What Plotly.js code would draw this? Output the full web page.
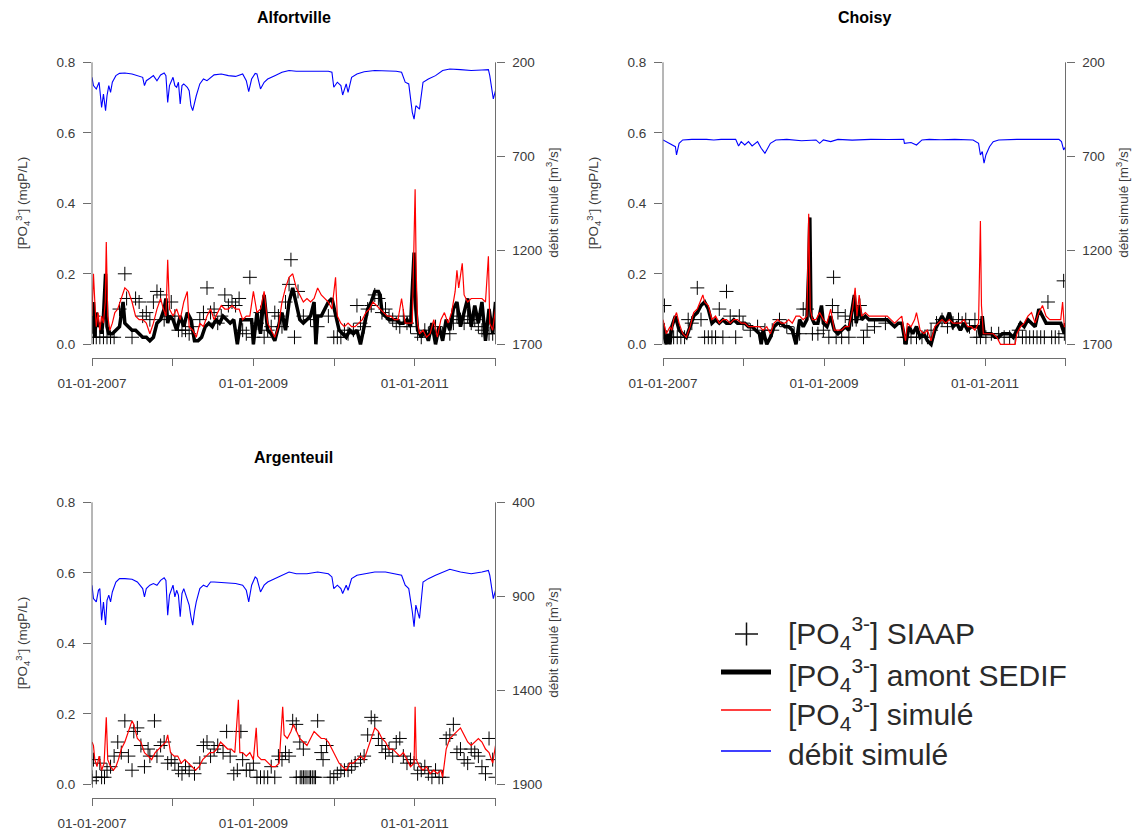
<!DOCTYPE html>
<html>
<head>
<meta charset="utf-8">
<script src="https://cdn.plot.ly/plotly-3.0.1.min.js"></script>
<style>html,body{margin:0;padding:0;background:#fff;}#chart{width:1133px;height:834px;}</style>
</head>
<body>
<div id="chart"></div>
<script>
// ---------- axis labels ----------
const labelYears = [2007, 2009, 2011];
const tickLabels = ['01-01-2007', '01-01-2009', '01-01-2011'];
const unlabelledYears = [2008, 2010, 2012];
const concTicks = [0, 0.2, 0.4, 0.6, 0.8];
const concLabels = ['0.0', '0.2', '0.4', '0.6', '0.8'];
const flowTicksAC = [200, 700, 1200, 1700];
const flowTicksArg = [400, 900, 1400, 1900];
const panelTitles = ['Alfortville', 'Choisy', 'Argenteuil'];

// ---------- Alfortville ----------
const alfFlowT = [2007.000,2007.018,2007.053,2007.088,2007.119,2007.142,2007.168,2007.186,2007.208,2007.230,2007.252,2007.296,2007.341,2007.407,2007.496,2007.562,2007.628,2007.650,2007.673,2007.717,2007.761,2007.805,2007.850,2007.894,2007.916,2007.938,2007.960,2008.004,2008.027,2008.049,2008.071,2008.093,2008.115,2008.137,2008.181,2008.204,2008.226,2008.248,2008.270,2008.292,2008.336,2008.381,2008.425,2008.469,2008.513,2008.602,2008.690,2008.779,2008.867,2008.912,2008.942,2008.978,2009.022,2009.044,2009.088,2009.133,2009.177,2009.265,2009.354,2009.442,2009.531,2009.664,2009.796,2009.929,2009.973,2009.996,2010.040,2010.084,2010.106,2010.150,2010.173,2010.217,2010.283,2010.372,2010.504,2010.637,2010.770,2010.836,2010.881,2010.925,2010.969,2010.991,2011.013,2011.058,2011.102,2011.168,2011.257,2011.345,2011.434,2011.566,2011.699,2011.832,2011.912,2011.929,2011.956,2011.973,2012.000];
const alfFlow = [280,324,342,306,440,369,457,378,324,360,306,271,259,257,262,271,280,324,298,285,271,298,267,257,271,413,324,280,324,333,306,422,324,315,333,351,431,457,413,378,315,289,298,280,267,262,271,275,262,298,356,289,259,262,342,306,289,271,253,244,248,248,248,248,253,333,306,324,374,315,360,280,262,250,244,244,248,253,306,315,466,502,431,449,306,289,271,244,236,239,244,241,239,271,342,395,351];

const alfSimT = [2007.000,2007.018,2007.035,2007.053,2007.075,2007.097,2007.119,2007.142,2007.164,2007.177,2007.195,2007.221,2007.252,2007.283,2007.319,2007.363,2007.407,2007.451,2007.496,2007.540,2007.584,2007.628,2007.673,2007.717,2007.761,2007.805,2007.850,2007.885,2007.916,2007.938,2007.960,2008.004,2008.049,2008.093,2008.137,2008.181,2008.204,2008.248,2008.292,2008.336,2008.381,2008.425,2008.469,2008.513,2008.558,2008.602,2008.646,2008.690,2008.735,2008.779,2008.823,2008.867,2008.912,2008.956,2009.000,2009.044,2009.088,2009.133,2009.177,2009.221,2009.265,2009.310,2009.354,2009.398,2009.442,2009.487,2009.531,2009.575,2009.619,2009.664,2009.708,2009.752,2009.796,2009.841,2009.885,2009.929,2009.973,2010.018,2010.040,2010.084,2010.128,2010.173,2010.217,2010.261,2010.305,2010.350,2010.394,2010.438,2010.482,2010.527,2010.571,2010.615,2010.659,2010.704,2010.748,2010.792,2010.836,2010.881,2010.925,2010.969,2010.991,2011.004,2011.018,2011.035,2011.058,2011.102,2011.146,2011.190,2011.235,2011.279,2011.323,2011.367,2011.412,2011.456,2011.500,2011.522,2011.544,2011.588,2011.611,2011.655,2011.699,2011.743,2011.788,2011.832,2011.876,2011.912,2011.929,2011.965,2012.000];
const alfSim = [0.08,0.20,0.12,0.05,0.09,0.04,0.08,0.06,0.12,0.29,0.08,0.04,0.06,0.09,0.10,0.13,0.16,0.15,0.12,0.08,0.07,0.07,0.06,0.03,0.06,0.10,0.13,0.10,0.08,0.24,0.10,0.08,0.10,0.07,0.12,0.15,0.05,0.04,0.02,0.06,0.05,0.08,0.10,0.07,0.09,0.11,0.10,0.10,0.11,0.10,0.10,0.07,0.08,0.08,0.15,0.09,0.10,0.15,0.06,0.04,0.02,0.05,0.12,0.16,0.19,0.20,0.16,0.14,0.12,0.13,0.12,0.13,0.16,0.14,0.13,0.12,0.10,0.19,0.08,0.06,0.05,0.06,0.05,0.05,0.06,0.07,0.09,0.10,0.12,0.11,0.10,0.09,0.08,0.08,0.07,0.07,0.13,0.06,0.06,0.06,0.30,0.44,0.20,0.06,0.03,0.04,0.02,0.03,0.07,0.02,0.07,0.09,0.06,0.09,0.15,0.21,0.16,0.23,0.14,0.12,0.13,0.13,0.13,0.13,0.12,0.25,0.06,0.04,0.10];

const alfSedifT = [2007.000,2007.018,2007.035,2007.053,2007.075,2007.097,2007.119,2007.142,2007.168,2007.186,2007.208,2007.252,2007.296,2007.341,2007.385,2007.407,2007.451,2007.496,2007.540,2007.584,2007.628,2007.673,2007.717,2007.761,2007.805,2007.850,2007.894,2007.916,2007.938,2007.960,2008.004,2008.049,2008.093,2008.137,2008.181,2008.226,2008.270,2008.314,2008.358,2008.403,2008.447,2008.491,2008.535,2008.580,2008.624,2008.668,2008.712,2008.757,2008.801,2008.845,2008.889,2008.934,2008.978,2009.000,2009.044,2009.088,2009.133,2009.177,2009.221,2009.265,2009.310,2009.354,2009.398,2009.442,2009.487,2009.531,2009.575,2009.619,2009.664,2009.708,2009.752,2009.774,2009.796,2009.841,2009.885,2009.929,2009.973,2010.018,2010.062,2010.106,2010.150,2010.195,2010.239,2010.283,2010.327,2010.372,2010.416,2010.460,2010.504,2010.549,2010.571,2010.593,2010.637,2010.681,2010.726,2010.770,2010.814,2010.858,2010.903,2010.947,2010.991,2011.013,2011.035,2011.080,2011.124,2011.168,2011.212,2011.257,2011.301,2011.345,2011.389,2011.434,2011.478,2011.522,2011.566,2011.611,2011.655,2011.699,2011.743,2011.788,2011.832,2011.876,2011.920,2011.965,2012.000];
const alfSedif = [0.03,0.12,0.02,0.09,0.05,0.06,0.03,0.08,0.20,0.05,0.03,0.03,0.04,0.05,0.12,0.06,0.05,0.04,0.04,0.03,0.02,0.02,0.01,0.02,0.06,0.07,0.10,0.13,0.06,0.08,0.07,0.04,0.08,0.05,0.09,0.07,0.01,0.01,0.02,0.05,0.06,0.05,0.07,0.06,0.08,0.07,0.06,0.07,0.00,0.07,0.07,0.07,0.07,0.00,0.09,0.03,0.14,0.04,0.03,0.01,0.05,0.09,0.04,0.12,0.16,0.12,0.07,0.06,0.07,0.08,0.12,0.00,0.08,0.08,0.10,0.12,0.13,0.08,0.04,0.03,0.02,0.04,0.03,0.04,0.00,0.05,0.10,0.12,0.15,0.15,0.14,0.09,0.08,0.07,0.07,0.07,0.06,0.06,0.07,0.05,0.26,0.10,0.04,0.02,0.04,0.01,0.06,0.00,0.05,0.01,0.07,0.04,0.10,0.12,0.05,0.09,0.13,0.05,0.11,0.06,0.12,0.01,0.10,0.03,0.12];

const alfObsT = [2007.018,2007.018,2007.053,2007.097,2007.142,2007.186,2007.230,2007.274,2007.341,2007.407,2007.429,2007.496,2007.540,2007.584,2007.628,2007.673,2007.717,2007.761,2007.805,2007.850,2007.894,2007.938,2007.982,2008.027,2008.071,2008.115,2008.159,2008.204,2008.248,2008.336,2008.381,2008.425,2008.469,2008.513,2008.558,2008.602,2008.646,2008.690,2008.735,2008.779,2008.823,2008.867,2008.912,2008.956,2009.000,2009.044,2009.088,2009.133,2009.177,2009.221,2009.265,2009.310,2009.354,2009.398,2009.442,2009.465,2009.509,2009.553,2009.619,2009.708,2009.796,2009.929,2009.996,2010.040,2010.084,2010.128,2010.173,2010.239,2010.283,2010.327,2010.372,2010.416,2010.460,2010.504,2010.549,2010.593,2010.637,2010.681,2010.726,2010.770,2010.814,2010.858,2010.903,2010.947,2011.035,2011.080,2011.124,2011.168,2011.257,2011.345,2011.434,2011.478,2011.522,2011.566,2011.611,2011.655,2011.699,2011.743,2011.788,2011.832,2011.876,2011.920,2011.965];
const alfObs = [0.02,0.08,0.02,0.02,0.02,0.02,0.02,0.02,0.10,0.20,0.13,0.02,0.13,0.12,0.08,0.09,0.07,0.12,0.15,0.14,0.07,0.08,0.12,0.08,0.04,0.04,0.04,0.03,0.05,0.07,0.09,0.16,0.09,0.10,0.06,0.08,0.14,0.11,0.12,0.11,0.13,0.04,0.03,0.19,0.02,0.06,0.09,0.02,0.04,0.05,0.09,0.08,0.05,0.12,0.17,0.24,0.02,0.15,0.08,0.07,0.05,0.08,0.02,0.02,0.02,0.04,0.03,0.04,0.11,0.06,0.05,0.10,0.11,0.14,0.13,0.09,0.10,0.08,0.07,0.06,0.05,0.08,0.06,0.05,0.03,0.02,0.04,0.03,0.05,0.03,0.03,0.06,0.08,0.07,0.06,0.08,0.06,0.07,0.05,0.04,0.03,0.03,0.03];

// ---------- Choisy ----------
const choFlowT = [2007.000,2007.041,2007.086,2007.132,2007.154,2007.168,2007.200,2007.245,2007.358,2007.540,2007.631,2007.721,2007.903,2007.939,2007.971,2008.016,2008.062,2008.107,2008.175,2008.220,2008.266,2008.289,2008.334,2008.402,2008.538,2008.720,2008.901,2008.946,2008.992,2009.083,2009.173,2009.350,2009.582,2009.800,2009.990,2009.999,2010.081,2010.149,2010.217,2010.308,2010.450,2010.625,2010.852,2010.920,2010.943,2010.966,2010.988,2011.011,2011.056,2011.102,2011.170,2011.396,2011.623,2011.918,2011.950,2011.977,2012.000];
const choFlow = [613,622,631,640,649,693,631,613,610,610,613,610,610,645,622,640,622,645,622,657,684,666,631,613,610,617,613,631,613,622,610,614,610,611,610,631,627,640,613,610,612,610,613,631,693,675,737,693,649,622,613,610,610,610,622,666,649];

const choSimT = [2007.000,2007.018,2007.041,2007.064,2007.086,2007.109,2007.132,2007.168,2007.200,2007.245,2007.290,2007.336,2007.381,2007.426,2007.472,2007.495,2007.517,2007.563,2007.608,2007.653,2007.699,2007.744,2007.789,2007.835,2007.880,2007.926,2007.971,2008.016,2008.062,2008.107,2008.152,2008.198,2008.243,2008.289,2008.334,2008.379,2008.425,2008.470,2008.515,2008.561,2008.606,2008.652,2008.697,2008.742,2008.788,2008.810,2008.829,2008.856,2008.901,2008.946,2008.992,2009.037,2009.083,2009.128,2009.173,2009.219,2009.264,2009.309,2009.355,2009.387,2009.409,2009.437,2009.468,2009.514,2009.559,2009.604,2009.650,2009.695,2009.740,2009.786,2009.831,2009.877,2009.922,2009.967,2009.990,2010.013,2010.035,2010.081,2010.126,2010.149,2010.194,2010.240,2010.285,2010.330,2010.376,2010.421,2010.466,2010.512,2010.557,2010.603,2010.648,2010.693,2010.739,2010.784,2010.829,2010.875,2010.920,2010.943,2010.956,2010.979,2011.011,2011.056,2011.102,2011.147,2011.192,2011.238,2011.283,2011.328,2011.374,2011.396,2011.442,2011.487,2011.533,2011.578,2011.623,2011.669,2011.714,2011.759,2011.805,2011.850,2011.896,2011.941,2011.964,2011.986,2012.000];
const choSim = [0.07,0.05,0.03,0.04,0.05,0.04,0.07,0.09,0.06,0.03,0.02,0.05,0.09,0.10,0.13,0.14,0.12,0.11,0.07,0.08,0.06,0.07,0.07,0.06,0.07,0.07,0.06,0.06,0.05,0.05,0.05,0.05,0.04,0.05,0.03,0.06,0.07,0.06,0.06,0.07,0.06,0.08,0.08,0.07,0.08,0.37,0.10,0.07,0.07,0.09,0.07,0.06,0.10,0.04,0.04,0.04,0.05,0.05,0.10,0.16,0.08,0.14,0.08,0.09,0.08,0.08,0.08,0.08,0.08,0.08,0.07,0.06,0.07,0.08,0.04,0.01,0.06,0.05,0.07,0.09,0.04,0.03,0.04,0.01,0.05,0.06,0.07,0.06,0.07,0.06,0.06,0.06,0.07,0.05,0.05,0.04,0.06,0.35,0.11,0.03,0.03,0.03,0.03,0.02,0.00,0.00,0.00,0.00,0.00,0.03,0.05,0.06,0.08,0.09,0.06,0.09,0.11,0.08,0.07,0.07,0.07,0.07,0.12,0.05,0.05];

const choSedifT = [2007.000,2007.018,2007.041,2007.064,2007.086,2007.109,2007.154,2007.200,2007.245,2007.290,2007.336,2007.381,2007.426,2007.472,2007.517,2007.563,2007.608,2007.653,2007.699,2007.744,2007.789,2007.835,2007.880,2007.926,2007.971,2008.016,2008.062,2008.107,2008.152,2008.198,2008.220,2008.243,2008.289,2008.334,2008.379,2008.425,2008.470,2008.515,2008.561,2008.606,2008.652,2008.697,2008.742,2008.788,2008.810,2008.824,2008.838,2008.878,2008.924,2008.969,2008.992,2009.037,2009.083,2009.128,2009.173,2009.219,2009.264,2009.309,2009.355,2009.377,2009.400,2009.437,2009.468,2009.514,2009.559,2009.604,2009.650,2009.695,2009.740,2009.786,2009.831,2009.877,2009.922,2009.967,2010.013,2010.058,2010.103,2010.149,2010.194,2010.240,2010.285,2010.330,2010.376,2010.421,2010.466,2010.512,2010.557,2010.603,2010.648,2010.693,2010.739,2010.784,2010.829,2010.875,2010.920,2010.943,2010.966,2010.988,2011.034,2011.079,2011.124,2011.170,2011.215,2011.260,2011.306,2011.351,2011.396,2011.442,2011.487,2011.533,2011.578,2011.623,2011.669,2011.714,2011.759,2011.805,2011.850,2011.896,2011.941,2011.986,2012.000];
const choSedif = [0.06,0.02,0.00,0.03,0.00,0.05,0.08,0.04,0.03,0.02,0.05,0.08,0.09,0.11,0.12,0.10,0.06,0.07,0.06,0.07,0.06,0.06,0.07,0.06,0.06,0.06,0.05,0.05,0.04,0.03,0.00,0.04,0.00,0.02,0.05,0.06,0.06,0.05,0.05,0.04,0.00,0.07,0.05,0.07,0.21,0.36,0.08,0.06,0.06,0.11,0.06,0.05,0.08,0.04,0.03,0.04,0.05,0.04,0.12,0.14,0.06,0.11,0.07,0.08,0.07,0.07,0.07,0.07,0.07,0.07,0.06,0.05,0.06,0.06,0.00,0.05,0.03,0.05,0.02,0.03,0.01,0.00,0.04,0.06,0.08,0.06,0.09,0.05,0.06,0.04,0.06,0.04,0.05,0.05,0.05,0.02,0.08,0.03,0.03,0.03,0.02,0.02,0.03,0.03,0.03,0.02,0.04,0.06,0.05,0.07,0.06,0.05,0.10,0.08,0.06,0.06,0.06,0.06,0.06,0.03,0.06];

const choObsT = [2007.018,2007.041,2007.086,2007.132,2007.177,2007.222,2007.268,2007.313,2007.358,2007.426,2007.472,2007.517,2007.563,2007.608,2007.653,2007.699,2007.744,2007.789,2007.835,2007.903,2007.948,2007.994,2008.084,2008.175,2008.266,2008.357,2008.447,2008.538,2008.629,2008.697,2008.742,2008.788,2008.856,2008.924,2008.992,2009.060,2009.105,2009.119,2009.151,2009.173,2009.219,2009.264,2009.309,2009.355,2009.400,2009.446,2009.491,2009.536,2009.627,2009.763,2009.990,2010.035,2010.081,2010.149,2010.217,2010.285,2010.330,2010.398,2010.466,2010.534,2010.603,2010.671,2010.716,2010.761,2010.807,2010.875,2010.897,2010.943,2011.011,2011.079,2011.170,2011.238,2011.306,2011.374,2011.419,2011.465,2011.510,2011.555,2011.601,2011.646,2011.692,2011.737,2011.782,2011.828,2011.873,2011.918,2011.977,2011.986];
const choObs = [0.11,0.02,0.02,0.02,0.02,0.02,0.02,0.07,0.06,0.16,0.07,0.02,0.02,0.02,0.02,0.10,0.02,0.15,0.08,0.02,0.08,0.06,0.04,0.05,0.04,0.04,0.07,0.05,0.03,0.03,0.10,0.10,0.03,0.03,0.04,0.02,0.11,0.19,0.02,0.09,0.02,0.08,0.02,0.07,0.07,0.11,0.02,0.04,0.05,0.06,0.02,0.02,0.02,0.02,0.02,0.02,0.04,0.06,0.07,0.05,0.06,0.07,0.06,0.07,0.05,0.07,0.02,0.02,0.02,0.03,0.03,0.02,0.02,0.02,0.04,0.02,0.02,0.02,0.02,0.02,0.02,0.02,0.12,0.02,0.02,0.02,0.18,0.03];

// ---------- Argenteuil ----------
const argFlowT = [2007.000,2007.018,2007.053,2007.080,2007.097,2007.119,2007.142,2007.168,2007.186,2007.208,2007.230,2007.252,2007.296,2007.341,2007.407,2007.496,2007.562,2007.628,2007.650,2007.673,2007.717,2007.761,2007.805,2007.850,2007.894,2007.916,2007.938,2007.960,2008.004,2008.027,2008.049,2008.071,2008.093,2008.115,2008.137,2008.181,2008.204,2008.226,2008.248,2008.270,2008.292,2008.336,2008.381,2008.425,2008.469,2008.513,2008.602,2008.690,2008.779,2008.867,2008.912,2008.942,2008.978,2009.022,2009.044,2009.088,2009.133,2009.177,2009.265,2009.354,2009.442,2009.531,2009.664,2009.796,2009.929,2009.973,2009.996,2010.040,2010.084,2010.106,2010.150,2010.173,2010.217,2010.283,2010.372,2010.504,2010.637,2010.770,2010.836,2010.881,2010.925,2010.969,2010.991,2011.013,2011.058,2011.102,2011.168,2011.257,2011.345,2011.434,2011.566,2011.699,2011.832,2011.912,2011.929,2011.956,2011.973,2012.000];
const argFlow = [841,912,930,868,859,1027,930,1053,921,894,930,877,824,806,806,809,824,859,903,859,841,832,841,815,802,815,1000,894,841,903,868,894,1009,885,859,912,947,1009,1053,982,930,859,841,850,824,824,827,832,832,841,868,930,841,797,806,877,841,824,806,788,771,780,780,771,780,797,859,841,859,885,841,868,806,788,780,771,771,780,788,841,859,982,1062,947,1018,824,806,788,771,756,771,780,771,762,788,877,912,868];

const argSimT = [2007.000,2007.018,2007.035,2007.062,2007.088,2007.119,2007.150,2007.177,2007.195,2007.230,2007.265,2007.296,2007.327,2007.363,2007.407,2007.451,2007.496,2007.518,2007.562,2007.606,2007.650,2007.695,2007.739,2007.783,2007.827,2007.872,2007.916,2007.938,2007.973,2008.018,2008.062,2008.106,2008.150,2008.195,2008.239,2008.283,2008.327,2008.372,2008.416,2008.460,2008.504,2008.549,2008.593,2008.637,2008.681,2008.726,2008.770,2008.814,2008.832,2008.867,2008.912,2008.956,2009.000,2009.035,2009.053,2009.097,2009.142,2009.186,2009.230,2009.274,2009.319,2009.363,2009.381,2009.420,2009.465,2009.496,2009.531,2009.575,2009.619,2009.664,2009.708,2009.752,2009.796,2009.841,2009.885,2009.929,2009.973,2010.018,2010.062,2010.106,2010.150,2010.195,2010.239,2010.283,2010.327,2010.372,2010.416,2010.460,2010.504,2010.549,2010.593,2010.637,2010.681,2010.726,2010.770,2010.814,2010.858,2010.903,2010.947,2010.991,2011.004,2011.018,2011.058,2011.102,2011.146,2011.190,2011.235,2011.279,2011.323,2011.345,2011.389,2011.434,2011.478,2011.522,2011.566,2011.611,2011.655,2011.699,2011.743,2011.788,2011.832,2011.876,2011.920,2011.965,2012.000];
const argSim = [0.12,0.11,0.07,0.05,0.08,0.04,0.06,0.19,0.07,0.05,0.04,0.05,0.07,0.10,0.12,0.15,0.18,0.17,0.13,0.12,0.09,0.08,0.07,0.09,0.10,0.11,0.12,0.14,0.09,0.08,0.08,0.06,0.07,0.06,0.05,0.04,0.05,0.07,0.08,0.09,0.09,0.10,0.12,0.11,0.10,0.10,0.09,0.24,0.09,0.09,0.08,0.09,0.07,0.16,0.08,0.07,0.07,0.06,0.05,0.05,0.06,0.22,0.14,0.13,0.15,0.17,0.15,0.13,0.12,0.11,0.13,0.15,0.14,0.13,0.13,0.12,0.10,0.08,0.06,0.05,0.04,0.06,0.06,0.07,0.08,0.07,0.10,0.13,0.16,0.15,0.13,0.12,0.10,0.10,0.09,0.08,0.09,0.07,0.05,0.06,0.22,0.07,0.05,0.04,0.05,0.03,0.04,0.03,0.04,0.02,0.10,0.13,0.14,0.15,0.16,0.14,0.12,0.11,0.12,0.13,0.12,0.10,0.09,0.06,0.11];

const argObsT = [2007.000,2007.000,2007.018,2007.053,2007.097,2007.119,2007.155,2007.186,2007.230,2007.274,2007.319,2007.363,2007.407,2007.451,2007.496,2007.518,2007.562,2007.606,2007.650,2007.695,2007.717,2007.774,2007.805,2007.850,2007.894,2007.938,2007.982,2008.027,2008.071,2008.115,2008.159,2008.204,2008.270,2008.336,2008.381,2008.425,2008.469,2008.513,2008.558,2008.624,2008.668,2008.712,2008.757,2008.801,2008.845,2008.867,2008.912,2008.956,2009.000,2009.044,2009.088,2009.133,2009.177,2009.221,2009.265,2009.310,2009.354,2009.398,2009.442,2009.487,2009.531,2009.531,2009.575,2009.580,2009.600,2009.619,2009.620,2009.640,2009.664,2009.690,2009.708,2009.730,2009.752,2009.770,2009.796,2009.841,2009.863,2009.907,2009.951,2009.996,2010.040,2010.084,2010.128,2010.173,2010.217,2010.261,2010.327,2010.372,2010.416,2010.460,2010.504,2010.549,2010.593,2010.637,2010.681,2010.726,2010.770,2010.814,2010.858,2010.903,2010.947,2010.991,2011.035,2011.080,2011.124,2011.168,2011.212,2011.257,2011.301,2011.345,2011.389,2011.434,2011.478,2011.522,2011.566,2011.611,2011.655,2011.699,2011.743,2011.788,2011.832,2011.876,2011.920,2011.965,2012.000];
const argObs = [0.02,0.01,0.07,0.02,0.06,0.02,0.02,0.04,0.05,0.08,0.12,0.09,0.18,0.08,0.04,0.15,0.16,0.11,0.05,0.10,0.08,0.18,0.08,0.11,0.12,0.06,0.07,0.06,0.04,0.03,0.05,0.04,0.03,0.06,0.11,0.12,0.08,0.10,0.11,0.09,0.15,0.08,0.03,0.04,0.15,0.07,0.04,0.04,0.06,0.02,0.02,0.02,0.02,0.05,0.02,0.08,0.07,0.09,0.08,0.18,0.17,0.02,0.12,0.02,0.02,0.10,0.02,0.02,0.02,0.02,0.02,0.02,0.02,0.02,0.18,0.09,0.07,0.11,0.02,0.02,0.03,0.04,0.04,0.04,0.05,0.06,0.07,0.08,0.14,0.19,0.18,0.13,0.11,0.09,0.10,0.08,0.12,0.13,0.08,0.06,0.07,0.06,0.03,0.04,0.05,0.03,0.02,0.04,0.02,0.02,0.13,0.14,0.17,0.09,0.10,0.07,0.06,0.10,0.09,0.08,0.05,0.03,0.13,0.07,0.02];

// ---------- styling ----------
const FONT = 'Liberation Sans, Arial, Helvetica, sans-serif';
const AX = '#6e6e6e';
const TXT = '#3a3a3a';
const W = 1133, H = 834;
const CONC_LO = -0.038, CONC_HI = 0.838;

function px2fx(x) { return x / W; }
function px2fy(y) { return 1 - y / H; }

const panels = [
  {name: panelTitles[0], xa: 'x',  ya: 'y',  ya2: 'y2', left: 92,  right: 495.5, top: 48.9, bottom: 357.7,
   flowT: alfFlowT, flow: alfFlow, simT: alfSimT, sim: alfSim, sedT: alfSedifT, sed: alfSedif, obsT: alfObsT, obs: alfObs, fticks: flowTicksAC},
  {name: panelTitles[1], xa: 'x2', ya: 'y3', ya2: 'y4', left: 663, right: 1065.5, top: 48.9, bottom: 357.7,
   flowT: choFlowT, flow: choFlow, simT: choSimT, sim: choSim, sedT: choSedifT, sed: choSedif, obsT: choObsT, obs: choObs, fticks: flowTicksAC},
  {name: panelTitles[2], xa: 'x3', ya: 'y5', ya2: 'y6', left: 92,  right: 495.5, top: 488.9, bottom: 797.7,
   flowT: argFlowT, flow: argFlow, simT: argSimT, sim: argSim, sedT: null, sed: null, obsT: argObsT, obs: argObs, fticks: flowTicksArg}
];

const data = [];
const layout = {
  width: W, height: H,
  margin: {l: 0, r: 0, t: 0, b: 0},
  paper_bgcolor: '#ffffff', plot_bgcolor: '#ffffff',
  showlegend: false,
  font: {family: FONT, color: TXT, size: 13.5},
  shapes: [], annotations: []
};

function axName(ref) { return ref.replace('x', 'xaxis').replace('y', 'yaxis'); }

panels.forEach(p => {
  const fmin = p.fticks[0], fmax = p.fticks[p.fticks.length - 1];
  const span = fmax - fmin;
  const flowLo = fmax + (0 - CONC_LO) / 0.8 * span;
  const flowHi = fmin - (CONC_HI - 0.8) / 0.8 * span;

  data.push({x: p.obsT, y: p.obs, xaxis: p.xa, yaxis: p.ya, type: 'scatter', mode: 'markers',
    marker: {symbol: 'cross-thin-open', size: 10, color: '#000', line: {color: '#000', width: 1}}, hoverinfo: 'skip'});
  if (p.sedT) {
    data.push({x: p.sedT, y: p.sed, xaxis: p.xa, yaxis: p.ya, type: 'scatter', mode: 'lines',
      line: {color: '#000', width: 3.5}, hoverinfo: 'skip'});
  }
  data.push({x: p.simT, y: p.sim, xaxis: p.xa, yaxis: p.ya, type: 'scatter', mode: 'lines',
    line: {color: '#ff0000', width: 1.2}, hoverinfo: 'skip'});
  data.push({x: p.flowT, y: p.flow, xaxis: p.xa, yaxis: p.ya2, type: 'scatter', mode: 'lines',
    line: {color: '#0000ff', width: 1.1}, hoverinfo: 'skip'});

  const xd = [px2fx(p.left), px2fx(p.right)];
  const yd = [px2fy(p.bottom), px2fy(p.top)];
  layout[axName(p.xa)] = {
    domain: xd, anchor: p.ya, range: [2007, 2012], type: 'linear',
    tickmode: 'array', tickvals: labelYears, ticktext: tickLabels, ticks: 'outside', ticklen: 7, tickcolor: AX, tickwidth: 1,
    minor: {tickmode: 'array', tickvals: unlabelledYears, ticks: 'outside', ticklen: 7, tickcolor: AX, tickwidth: 1, showgrid: false},
    showline: true, linecolor: AX, linewidth: 1, showgrid: false, zeroline: false,
    tickfont: {family: FONT, size: 13.5, color: TXT}, ticklabelstandoff: 6, fixedrange: true
  };
  layout[axName(p.ya)] = {
    domain: yd, anchor: p.xa, range: [CONC_LO, CONC_HI],
    tickmode: 'array', tickvals: concTicks, ticktext: concLabels, ticks: 'outside', ticklen: 8, tickcolor: AX, tickwidth: 1,
    showline: false, showgrid: false, zeroline: false,
    tickfont: {family: FONT, size: 13.5, color: TXT}, ticklabelstandoff: 5, fixedrange: true
  };
  layout[axName(p.ya2)] = {
    overlaying: p.ya, side: 'right', anchor: p.xa, range: [flowLo, flowHi],
    tickmode: 'array', tickvals: p.fticks, ticktext: p.fticks.map(String), ticks: 'outside', ticklen: 8, tickcolor: AX, tickwidth: 1,
    showline: false, showgrid: false, zeroline: false,
    tickfont: {family: FONT, size: 13.5, color: TXT}, ticklabelstandoff: 5, fixedrange: true
  };
  // R-style axis lines spanning only the tick range
  layout.shapes.push({type: 'line', xref: p.xa + ' domain', yref: p.ya, x0: 0, x1: 0, y0: 0, y1: 0.8,
    line: {color: AX, width: 1}});
  layout.shapes.push({type: 'line', xref: p.xa + ' domain', yref: p.ya2, x0: 1, x1: 1, y0: fmin, y1: fmax,
    line: {color: AX, width: 1}});

  const cx = (p.left + p.right) / 2;
  const cy = (p.top + p.bottom) / 2;
  layout.annotations.push({text: '<b>' + p.name + '</b>', xref: 'paper', yref: 'paper',
    x: px2fx(cx), y: px2fy(p.top - 31), showarrow: false, xanchor: 'center', yanchor: 'middle',
    font: {family: FONT, size: 16, color: '#000'}});
  layout.annotations.push({text: '[PO<sub>4</sub><sup>3-</sup>] (mgP/L)', xref: 'paper', yref: 'paper',
    x: px2fx(p.left - 69), y: px2fy(cy), textangle: -90, showarrow: false, xanchor: 'center', yanchor: 'middle',
    font: {family: FONT, size: 13.5, color: TXT}});
  layout.annotations.push({text: 'débit simulé [m<sup>3</sup>/s]', xref: 'paper', yref: 'paper',
    x: px2fx(p.right + 57), y: px2fy(cy), textangle: -90, showarrow: false, xanchor: 'center', yanchor: 'middle',
    font: {family: FONT, size: 13.5, color: TXT}});
});

// ---------- legend (drawn in paper space) ----------
const legendItems = [
  '[PO<sub>4</sub><sup>3-</sup>] SIAAP',
  '[PO<sub>4</sub><sup>3-</sup>] amont SEDIF',
  '[PO<sub>4</sub><sup>3-</sup>] simulé',
  'débit simulé'
];
const legRowsY = [633, 675, 714, 754];
legendItems.forEach((t, i) => {
  layout.annotations.push({text: t, xref: 'paper', yref: 'paper', x: px2fx(786), y: px2fy(legRowsY[i]),
    xanchor: 'left', yanchor: 'middle', showarrow: false, font: {family: FONT, size: 30, color: '#2a2a2a'}});
});
// "+" symbol
layout.shapes.push({type: 'line', xref: 'paper', yref: 'paper', x0: px2fx(735), x1: px2fx(758), y0: px2fy(634), y1: px2fy(634), line: {color: '#111', width: 1.5}});
layout.shapes.push({type: 'line', xref: 'paper', yref: 'paper', x0: px2fx(746.5), x1: px2fx(746.5), y0: px2fy(622.5), y1: px2fy(645.5), line: {color: '#111', width: 1.5}});
// thick black, red, blue samples
layout.shapes.push({type: 'line', xref: 'paper', yref: 'paper', x0: px2fx(721), x1: px2fx(771), y0: px2fy(672), y1: px2fy(672), line: {color: '#000', width: 5}});
layout.shapes.push({type: 'line', xref: 'paper', yref: 'paper', x0: px2fx(721), x1: px2fx(771), y0: px2fy(710), y1: px2fy(710), line: {color: '#ff0000', width: 1.5}});
layout.shapes.push({type: 'line', xref: 'paper', yref: 'paper', x0: px2fx(721), x1: px2fx(771), y0: px2fy(751), y1: px2fy(751), line: {color: '#0000ff', width: 1.5}});

Plotly.newPlot('chart', data, layout, {staticPlot: true, displayModeBar: false});
</script>
</body>
</html>
